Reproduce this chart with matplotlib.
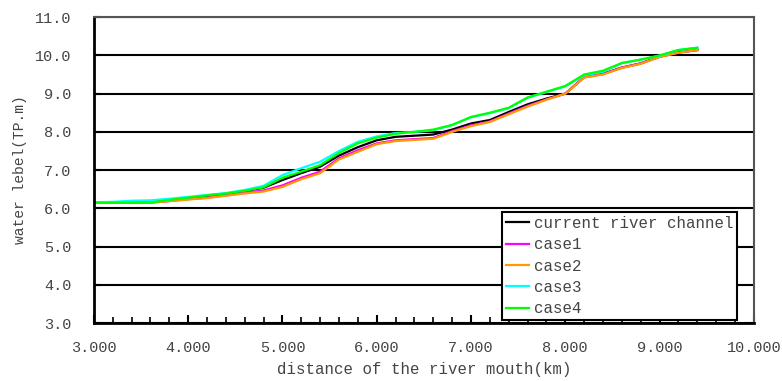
import matplotlib
matplotlib.use("Agg")
import matplotlib.pyplot as plt
from matplotlib.ticker import MultipleLocator, FormatStrFormatter

# distance from the river mouth (km)
distance = [3.0, 3.2, 3.4, 3.6, 3.8, 4.0, 4.2, 4.4, 4.6, 4.8, 5.0, 5.2, 5.4, 5.6, 5.8,
            6.0, 6.2, 6.4, 6.6, 6.8, 7.0, 7.2, 7.4, 7.6, 7.8, 8.0, 8.2, 8.4, 8.6, 8.8,
            9.0, 9.2, 9.4]

# water level (TP.m)
current = [6.15, 6.15, 6.16, 6.16, 6.21, 6.26, 6.31, 6.37, 6.45, 6.54, 6.74, 6.92, 7.09, 7.38, 7.60,
           7.78, 7.87, 7.90, 7.93, 8.06, 8.22, 8.31, 8.52, 8.72, 8.87, 9.00, 9.43, 9.52, 9.68, 9.79,
           9.97, 10.08, 10.14]
case1 = [6.15, 6.15, 6.15, 6.15, 6.19, 6.24, 6.28, 6.34, 6.41, 6.47, 6.60, 6.80, 6.96, 7.31, 7.52,
         7.70, 7.78, 7.81, 7.84, 8.02, 8.17, 8.27, 8.48, 8.68, 8.85, 9.00, 9.43, 9.51, 9.68, 9.79,
         9.96, 10.07, 10.14]
case2 = [6.15, 6.15, 6.15, 6.15, 6.19, 6.23, 6.27, 6.33, 6.39, 6.44, 6.56, 6.76, 6.92, 7.28, 7.48,
         7.68, 7.76, 7.79, 7.82, 8.00, 8.15, 8.26, 8.46, 8.66, 8.84, 9.00, 9.42, 9.50, 9.67, 9.78,
         9.96, 10.07, 10.14]
case3 = [6.16, 6.17, 6.20, 6.21, 6.25, 6.30, 6.35, 6.40, 6.48, 6.59, 6.87, 7.05, 7.22, 7.50, 7.74,
         7.88, 7.97, 8.00, 8.04, 8.18, 8.38, 8.49, 8.62, 8.89, 9.04, 9.19, 9.48, 9.57, 9.80, 9.89,
         9.99, 10.14, 10.20]
case4 = [6.15, 6.15, 6.15, 6.15, 6.22, 6.28, 6.34, 6.39, 6.46, 6.55, 6.80, 6.96, 7.13, 7.45, 7.70,
         7.85, 7.95, 8.00, 8.06, 8.18, 8.39, 8.50, 8.63, 8.90, 9.05, 9.20, 9.50, 9.60, 9.80, 9.89,
         10.00, 10.14, 10.20]

labels = ["current river channel", "case1", "case2", "case3", "case4"]
colors = ["black", "#ff00ff", "#ff9900", "#00ffff", "#00ff00"]

plt.rcParams['font.family'] = ['Liberation Mono', 'DejaVu Sans Mono']

fig = plt.figure(figsize=(7.82, 3.81), dpi=100)
ax = fig.add_axes([0.120, 0.152, 0.844, 0.803])

for ys, lab, col in zip([current, case1, case2, case3, case4], labels, colors):
    ax.plot(distance, ys, color=col, lw=1.6, label=lab)

ax.set_xlim(3, 10)
ax.set_ylim(3, 11)
ax.xaxis.set_major_locator(MultipleLocator(1))
ax.xaxis.set_minor_locator(MultipleLocator(0.2))
ax.yaxis.set_major_locator(MultipleLocator(1))
ax.xaxis.set_major_formatter(FormatStrFormatter('%.3f'))
ax.yaxis.set_major_formatter(FormatStrFormatter('%.1f'))
ax.tick_params(axis='x', which='major', direction='in', length=6, width=1.5, pad=13,
               labelsize=11, labelcolor='#444444')
ax.tick_params(axis='x', which='minor', direction='in', length=4, width=1.2)
ax.tick_params(axis='y', which='major', direction='in', length=5, width=1.5, pad=16,
               labelsize=11, labelcolor='#444444')
ax.grid(True, axis='y', color='black', lw=1.5)

for side in ['left', 'bottom']:
    ax.spines[side].set_linewidth(2)
for side in ['top', 'right']:
    ax.spines[side].set_linewidth(1.5)
    ax.spines[side].set_color('#555555')

ax.set_xlabel("distance of the river mouth(km)", fontsize=11.3, color='#444444', labelpad=5)
ax.set_ylabel("water lebel(TP.m)", fontsize=10.5, color='#444444', labelpad=6)

leg = ax.legend(loc='upper left', bbox_to_anchor=(0.618, 0.363), fancybox=False,
                framealpha=1, edgecolor='black', fontsize=11.3, handlelength=1.5,
                handletextpad=0.3, labelspacing=0.4, borderpad=0.25, borderaxespad=0)
leg.get_frame().set_linewidth(1.5)
for t in leg.get_texts():
    t.set_color('#444444')

fig.savefig("out.png", dpi=100)
